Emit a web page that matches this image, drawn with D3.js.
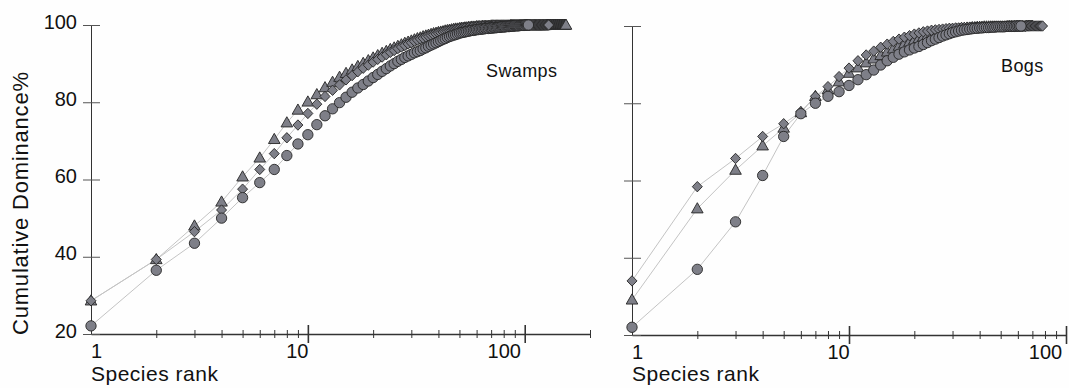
<!DOCTYPE html>
<html>
<head>
<meta charset="utf-8">
<script src="https://cdn.jsdelivr.net/npm/d3@7"></script>
<style>
  body { margin: 0; background: #fff; }
  svg text { font-family: "Liberation Sans", Arial, sans-serif; fill: #111; }
</style>
</head>
<body>
<svg id="chart" width="1069" height="388"></svg>
<script>
// cumulative dominance (%) by species rank, rank = index + 1
const swampTri = [
  28.6, 39.3, 48.0, 54.2, 60.7, 65.6, 70.4, 74.7, 78.0, 80.1,
  82.0, 83.8, 85.2, 86.5, 87.5, 88.4, 89.3, 90.1, 90.8, 91.5,
  92.1, 92.7, 93.2, 93.7, 94.1, 94.5, 94.9, 95.3, 95.6, 95.9,
  96.2, 96.5, 96.7, 97.0, 97.2, 97.4, 97.6, 97.8, 97.9, 98.1,
  98.2, 98.3, 98.5, 98.6, 98.7, 98.8, 98.9, 99.0, 99.0, 99.1,
  99.2, 99.2, 99.3, 99.3, 99.4, 99.4, 99.5, 99.5, 99.5, 99.6,
  99.6, 99.6, 99.6, 99.7, 99.7, 99.7, 99.7, 99.7, 99.7, 99.8,
  99.8, 99.8, 99.8, 99.8, 99.8, 99.8, 99.8, 99.8, 99.8, 99.8,
  99.8, 99.8, 99.8, 99.8, 99.8, 99.9, 99.9, 99.9, 99.9, 99.9,
  99.9, 99.9, 99.9, 99.9, 99.9, 99.9, 99.9, 99.9, 99.9, 99.9,
  99.9, 99.9, 99.9, 99.9, 99.9, 99.9, 99.9, 99.9, 99.9, 99.9,
  99.9, 99.9, 99.9, 99.9, 99.9, 99.9, 99.9, 99.9, 99.9, 99.9,
  99.9, 99.9, 99.9, 99.9, 99.9, 100, 100, 100, 100, 100,
  100, 100, 100, 100, 100, 100, 100, 100, 100, 100,
  100, 100, 100, 100, 100, 100, 100, 100, 100, 100,
  100, 100, 100, 100, 100
];
const swampDia = [
  28.6, 39.3, 46.5, 52.1, 57.5, 62.6, 66.7, 70.8, 74.1, 77.1,
  79.5, 81.5, 83.1, 84.5, 85.8, 86.9, 87.9, 88.8, 89.6, 90.4,
  91.1, 91.7, 92.3, 92.9, 93.4, 93.9, 94.3, 94.7, 95.1, 95.4,
  95.8, 96.1, 96.4, 96.6, 96.9, 97.1, 97.3, 97.5, 97.7, 97.9,
  98.0, 98.2, 98.3, 98.4, 98.5, 98.6, 98.7, 98.8, 98.9, 99.0,
  99.0, 99.1, 99.2, 99.2, 99.3, 99.3, 99.4, 99.4, 99.4, 99.5,
  99.5, 99.5, 99.6, 99.6, 99.6, 99.6, 99.7, 99.7, 99.7, 99.7,
  99.7, 99.8, 99.8, 99.8, 99.8, 99.8, 99.8, 99.8, 99.8, 99.8,
  99.8, 99.9, 99.9, 99.9, 99.9, 99.9, 99.9, 99.9, 99.9, 99.9,
  99.9, 99.9, 99.9, 99.9, 99.9, 99.9, 99.9, 99.9, 99.9, 99.9,
  99.9, 99.9, 99.9, 99.9, 99.9, 100, 100, 100, 100, 100,
  100, 100, 100, 100, 100, 100, 100, 100, 100, 100,
  100, 100, 100, 100, 100, 100, 100, 100, 100
];
const swampCirc = [
  22.1, 36.5, 43.5, 50.0, 55.3, 59.2, 62.6, 66.2, 69.2, 71.6,
  74.2, 76.5, 78.3, 79.9, 81.3, 82.6, 83.7, 84.6, 85.5, 86.4,
  87.2, 88.0, 88.7, 89.4, 90.0, 90.6, 91.1, 91.6, 92.0, 92.4,
  92.8, 93.1, 93.4, 93.8, 94.1, 94.5, 94.8, 95.1, 95.4, 95.7,
  96.0, 96.3, 96.5, 96.8, 97.0, 97.2, 97.4, 97.5, 97.7, 97.9,
  98.0, 98.1, 98.2, 98.3, 98.4, 98.5, 98.6, 98.6, 98.7, 98.8,
  98.8, 98.9, 98.9, 99.0, 99.0, 99.1, 99.1, 99.1, 99.2, 99.2,
  99.2, 99.3, 99.3, 99.3, 99.4, 99.4, 99.4, 99.5, 99.5, 99.5,
  99.5, 99.6, 99.6, 99.6, 99.6, 99.7, 99.7, 99.7, 99.7, 99.8,
  99.8, 99.8, 99.8, 99.8, 99.9, 99.9, 99.9, 99.9, 99.9, 99.9,
  100, 100, 100, 100
];

const bogTri = [
  29.1, 52.7, 62.7, 69.0, 73.6, 77.6, 81.8, 83.5, 85.6, 87.8,
  89.2, 90.5, 91.5, 92.4, 93.3, 94.1, 94.8, 95.4, 95.9, 96.4,
  96.8, 97.2, 97.5, 97.8, 98.1, 98.3, 98.5, 98.7, 98.9, 99.0,
  99.1, 99.2, 99.3, 99.4, 99.5, 99.5, 99.6, 99.6, 99.7, 99.7,
  99.7, 99.8, 99.8, 99.8, 99.8, 99.8, 99.8, 99.8, 99.8, 99.8,
  99.8, 99.8, 99.8, 99.9, 99.9, 99.9, 99.9, 99.9, 99.9, 99.9,
  99.9, 99.9, 99.9, 99.9, 99.9, 100, 100, 100, 100, 100
];
const bogDia = [
  34.0, 58.4, 65.7, 71.4, 74.7, 77.8, 81.8, 84.3, 86.9, 89.1,
  91.0, 92.5, 93.5, 94.5, 95.3, 96.0, 96.6, 97.1, 97.5, 97.9,
  98.2, 98.5, 98.7, 98.9, 99.0, 99.1, 99.2, 99.3, 99.4, 99.4,
  99.5, 99.5, 99.6, 99.6, 99.6, 99.7, 99.7, 99.7, 99.7, 99.8,
  99.8, 99.8, 99.8, 99.8, 99.8, 99.8, 99.9, 99.9, 99.9, 99.9,
  99.9, 99.9, 99.9, 99.9, 99.9, 99.9, 99.9, 99.9, 99.9, 99.9,
  99.9, 99.9, 99.9, 99.9, 99.9, 100, 100, 100, 100, 100,
  100, 100, 100, 100, 100, 100, 100, 100
];
const bogCirc = [
  22.0, 37.0, 49.3, 61.3, 71.4, 77.3, 80.0, 81.8, 83.0, 84.6,
  86.1, 87.4, 88.6, 89.9, 91.0, 91.9, 92.7, 93.3, 93.8, 94.3,
  94.7, 95.2, 95.7, 96.2, 96.6, 97.0, 97.4, 97.7, 98.0, 98.3,
  98.5, 98.7, 98.9, 99.0, 99.1, 99.2, 99.3, 99.4, 99.4, 99.5,
  99.5, 99.6, 99.6, 99.6, 99.7, 99.7, 99.7, 99.8, 99.8, 99.8,
  99.8, 99.8, 99.9, 99.9, 99.9, 99.9, 99.9, 99.9, 100, 100,
  100, 100
];

const yTicks = [20, 40, 60, 80, 100];
const majorX = [1, 10, 100];
const minorSwamp = [2, 3, 4, 5, 6, 7, 8, 9, 20, 30, 40, 50, 60, 70, 80, 90, 200];
const minorBog = [2, 3, 4, 5, 6, 7, 8, 9, 20, 30, 40, 50, 60, 70, 80, 90];

const yTitle = "Cumulative Dominance%";
const xTitle = "Species rank";

const svg = d3.select("#chart");
svg.append("rect").attr("width", 1069).attr("height", 388).attr("fill", "#fefefe");

const markFill = "#7e7f88";
const markStroke = "#262626";

// little shape helpers, drawn around 0,0
const shapes = {
  tri: "M0,-6L5.8,4.2L-5.8,4.2Z",
  dia: "M0,-5.2L5,0L0,5.2L-5,0Z",
  circ: d3.symbol(d3.symbolCircle, 84)()
};

// labels under the log axis sit a bit left of their ticks
const labelShift = {1: 5, 10: -11, 100: -21};

function panel(opt) {
  const x = d3.scaleLog().domain(opt.xDomain).range(opt.xRange);
  const y = d3.scaleLinear().domain([20, 100]).range(opt.yRange);
  const g = svg.append("g");

  // x axis
  const xa = g.append("g")
    .attr("transform", `translate(0,${opt.yRange[0]})`)
    .call(d3.axisBottom(x)
      .tickValues(majorX.concat(opt.minor))
      .tickSizeOuter(0)
      .tickFormat(d => majorX.includes(d) ? d : ""));
  xa.select(".domain").attr("stroke", "#333").attr("stroke-width", 1.6);
  xa.selectAll(".tick line")
    .attr("stroke", "#333")
    .attr("stroke-width", d => majorX.includes(d) ? 1.6 : 1)
    .attr("y1", d => majorX.includes(d) ? -9 : -4)
    .attr("y2", d => majorX.includes(d) ? 9 : 4);
  xa.selectAll(".tick").filter(d => d === 1).select("line").remove();
  xa.selectAll(".tick text")
    .attr("font-size", 20)
    .attr("y", 10)
    .attr("dy", "0.71em")
    .attr("dx", d => labelShift[d] || 0)
    .style("fill", "#111");

  // y axis with crossing ticks
  const ya = g.append("g")
    .attr("transform", `translate(${opt.xRange[0]},0)`)
    .call(d3.axisLeft(y).tickValues(yTicks).tickSizeOuter(0)
      .tickFormat(opt.yLabels ? d3.format("d") : () => ""));
  ya.select(".domain").attr("stroke", "#333").attr("stroke-width", 1);
  ya.selectAll(".tick line").attr("stroke", "#555").attr("x1", -8).attr("x2", 9);
  ya.selectAll(".tick text")
    .attr("font-size", 20)
    .attr("x", -14)
    .attr("dy", "0.15em")
    .style("fill", "#111");

  const line = d3.line().x((d, i) => x(i + 1)).y(d => y(d));
  const series = [
    {vals: opt.tri, shape: shapes.tri},
    {vals: opt.dia, shape: shapes.dia},
    {vals: opt.circ, shape: shapes.circ}
  ];

  series.forEach(s => {
    g.append("path")
      .datum(s.vals)
      .attr("fill", "none")
      .attr("stroke", "#c4c4c4")
      .attr("stroke-width", 1)
      .attr("d", line);
  });
  series.forEach(s => {
    g.append("g").selectAll("path")
      .data(s.vals)
      .join("path")
      .attr("d", s.shape)
      .attr("transform", (d, i) => `translate(${x(i + 1)},${y(d)})`)
      .attr("fill", markFill)
      .attr("stroke", markStroke)
      .attr("stroke-width", 0.9);
  });

  g.append("text")
    .attr("x", opt.xRange[0])
    .attr("y", 381)
    .attr("font-size", 21)
    .attr("letter-spacing", 0.5)
    .text(xTitle);

  g.append("text")
    .attr("x", opt.labelPos[0])
    .attr("y", opt.labelPos[1])
    .attr("font-size", 18)
    .attr("letter-spacing", 0.4)
    .text(opt.label);
}

panel({
  xDomain: [1, 200], xRange: [91, 590], yRange: [334, 25],
  minor: minorSwamp, yLabels: true,
  tri: swampTri, dia: swampDia, circ: swampCirc,
  label: "Swamps", labelPos: [486, 77]
});
panel({
  xDomain: [1, 100], xRange: [632, 1066], yRange: [335, 26],
  minor: minorBog, yLabels: false,
  tri: bogTri, dia: bogDia, circ: bogCirc,
  label: "Bogs", labelPos: [1001, 72]
});

svg.append("text")
  .attr("transform", "translate(28,335) rotate(-90)")
  .attr("font-size", 22)
  .attr("letter-spacing", 0.8)
  .text(yTitle);
</script>
</body>
</html>
